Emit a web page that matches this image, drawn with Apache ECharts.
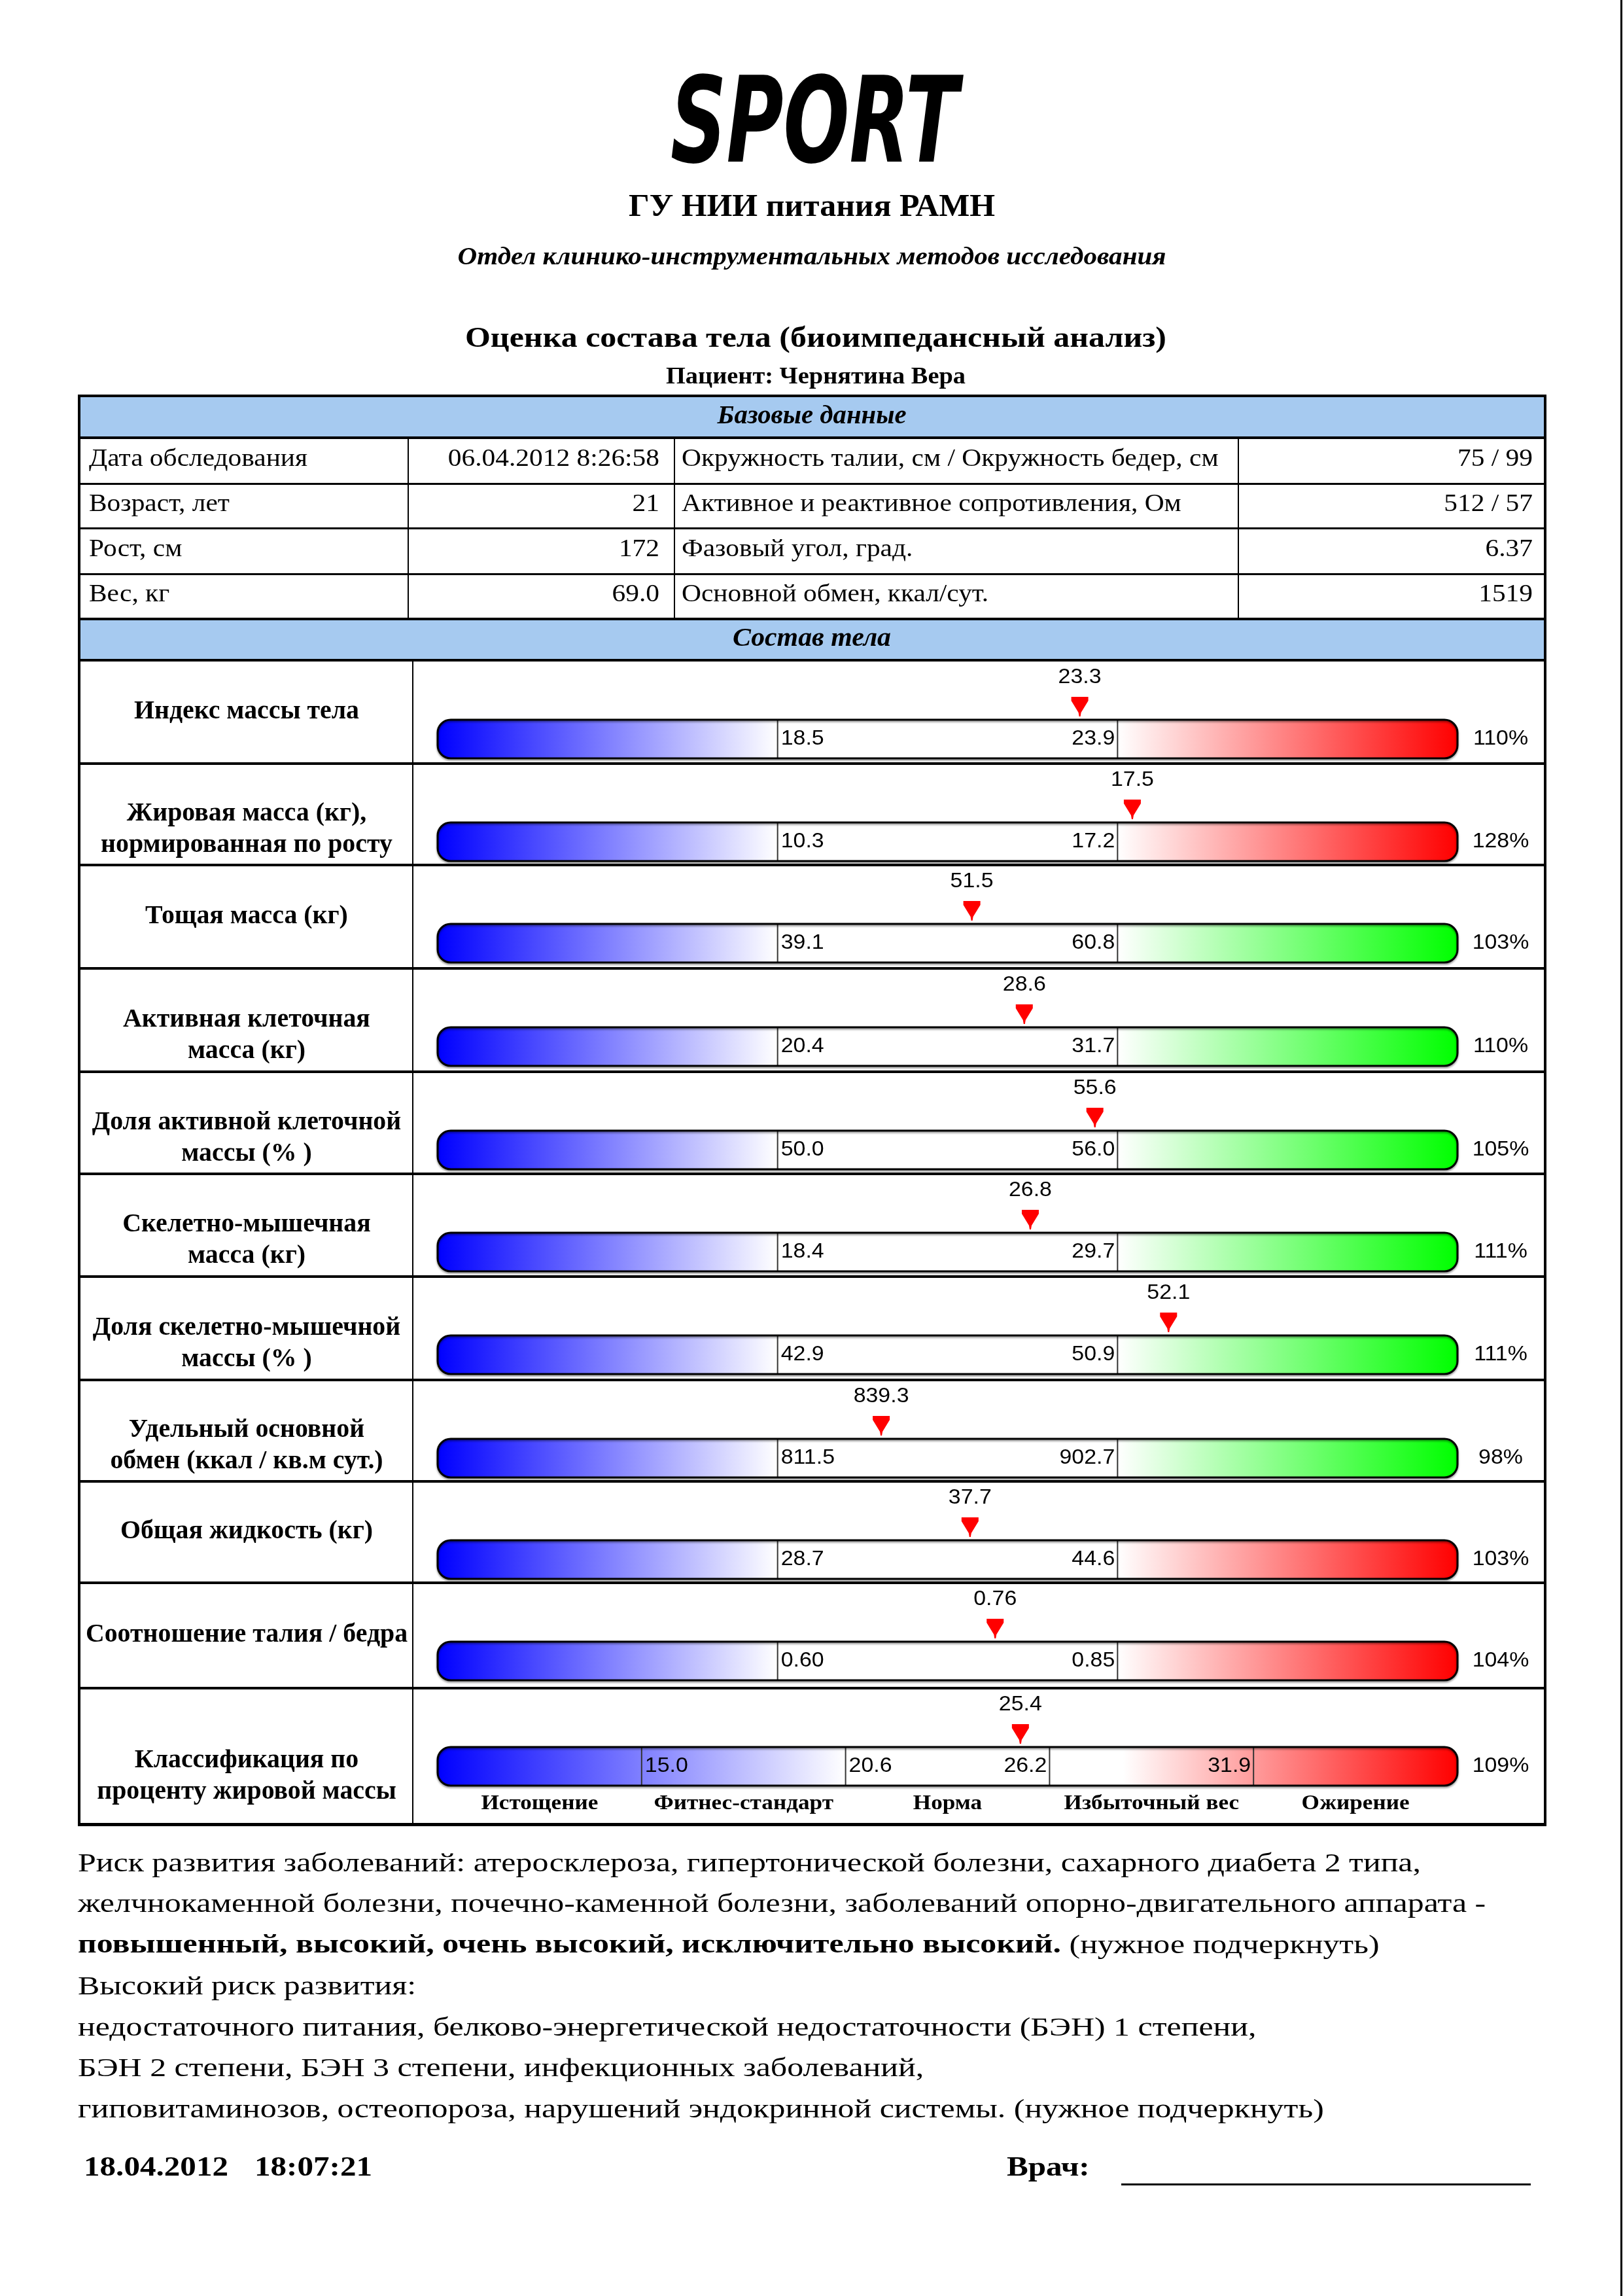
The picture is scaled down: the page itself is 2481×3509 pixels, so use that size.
<!DOCTYPE html>
<html><head><meta charset="utf-8">
<script src="https://cdn.jsdelivr.net/npm/echarts@6/dist/echarts.min.js"></script>
<style>html,body{margin:0;padding:0;background:#fff}#c{width:2481px;height:3509px}</style>
</head><body><div id="c"></div>
<script>
// ---------------- DATA ----------------
const rowLabels = [
  ['Индекс массы тела'],
  ['Жировая масса (кг),', 'нормированная по росту'],
  ['Тощая масса (кг)'],
  ['Активная клеточная', 'масса (кг)'],
  ['Доля активной клеточной', 'массы (% )'],
  ['Скелетно-мышечная', 'масса (кг)'],
  ['Доля скелетно-мышечной', 'массы (% )'],
  ['Удельный основной', 'обмен (ккал / кв.м сут.)'],
  ['Общая жидкость (кг)'],
  ['Соотношение талия / бедра'],
  ['Классификация по', 'проценту жировой массы']
];
const lowValues  = [18.5, 10.3, 39.1, 20.4, 50.0, 18.4, 42.9, 811.5, 28.7, 0.60];
const highValues = [23.9, 17.2, 60.8, 31.7, 56.0, 29.7, 50.9, 902.7, 44.6, 0.85];
const lowText    = ['18.5','10.3','39.1','20.4','50.0','18.4','42.9','811.5','28.7','0.60'];
const highText   = ['23.9','17.2','60.8','31.7','56.0','29.7','50.9','902.7','44.6','0.85'];
const measured   = [23.3, 17.5, 51.5, 28.6, 55.6, 26.8, 52.1, 839.3, 37.7, 0.76];
const measuredText = ['23.3','17.5','51.5','28.6','55.6','26.8','52.1','839.3','37.7','0.76'];
const upperZone  = ['red','red','green','green','green','green','green','green','red','red'];
const percentText = ['110%','128%','103%','110%','105%','111%','111%','98%','103%','104%'];
const fatThresholds = [15.0, 20.6, 26.2, 31.9];
const fatThresholdText = ['15.0','20.6','26.2','31.9'];
const fatValue = 25.4;
const fatValueText = '25.4';
const fatPercent = '109%';
const fatClassNames = ['Истощение','Фитнес-стандарт','Норма','Избыточный вес','Ожирение'];

const baseLeftLabels  = ['Дата обследования','Возраст, лет','Рост, см','Вес, кг'];
const baseLeftValues  = ['06.04.2012 8:26:58','21','172','69.0'];
const baseRightLabels = ['Окружность талии, см / Окружность бедер, см','Активное и реактивное сопротивления, Ом','Фазовый угол, град.','Основной обмен, ккал/сут.'];
const baseRightValues = ['75 / 99','512 / 57','6.37','1519'];

const riskLines = [
  'Риск развития заболеваний: атеросклероза, гипертонической болезни, сахарного диабета 2 типа,',
  'желчнокаменной болезни, почечно-каменной болезни, заболеваний опорно-двигательного аппарата -',
  '{b|повышенный, высокий, очень высокий, исключительно высокий.} (нужное подчеркнуть)',
  'Высокий риск развития:',
  'недостаточного питания, белково-энергетической недостаточности (БЭН) 1 степени,',
  'БЭН 2 степени, БЭН 3 степени, инфекционных заболеваний,',
  'гиповитаминозов, остеопороза, нарушений эндокринной системы. (нужное подчеркнуть)'
];
const reportDate = '18.04.2012';
const reportTime = '18:07:21';

// ---------------- HELPERS ----------------
const SERIF = '"Liberation Serif","Times New Roman",serif';
const SANS = '"Liberation Sans",Arial,sans-serif';
const mctx = document.createElement('canvas').getContext('2d');
function measure(text, font) { mctx.font = font; return mctx.measureText(text).width; }
function fit(text, font, target) { return target / measure(text, font); }

function T(x, y, text, font, align, sx, extra) {
  const st = Object.assign({ text: text, font: font, fill: '#000', align: align, textAlign: align,
    verticalAlign: 'middle', textVerticalAlign: 'middle', x: 0, y: 0 }, extra || {});
  return { type: 'text', x: x, y: y, scaleX: sx, scaleY: 1, style: st, z: 10 };
}
function R(x, y, w, h, fill, z) { return { type: 'rect', shape: { x: x, y: y, width: w, height: h }, style: { fill: fill }, z: z || 5 }; }

function toSeg(v, th) {
  let k = 0;
  while (k < th.length - 2 && v > th[k + 1]) k++;
  return 1 + k + (v - th[k]) / (th[k + 1] - th[k]);
}

// ---------------- LAYOUT ----------------
const W = 2481, H = 3509;
const tL = 121, tR = 2362;
const rowBounds = [1009, 1166, 1321, 1479, 1637, 1793, 1950, 2108, 2263, 2418, 2579, 2788];
const barLeft = 669, barWidth = 1559, barH = 59;

const fTable = '38px ' + SERIF;
const sTable = fit('Дата обследования', fTable, 334);
const fLabel = 'bold 41px ' + SERIF;
const sLabel = fit('Индекс массы тела', fLabel, 344);
const fNum = '31px ' + SANS;
const sNum = fit('18.5', fNum, 66);
const fCat = 'bold 32px ' + SERIF;
const sCat = fit('Истощение', fCat, 179);

const graphics = [];
// page edge
graphics.push(R(2477, 0, 3, H, '#000'));
// logo & titles
const fLogo = 'bold italic 182px "Liberation Sans Narrow","DejaVu Sans Condensed",sans-serif';
graphics.push(T(1245, 200, 'SPORT', fLogo, 'center', fit('SPORT', fLogo, 440)));
const f1 = 'bold 48px ' + SERIF;
graphics.push(T(1241, 318, 'ГУ НИИ питания РАМН', f1, 'center', fit('ГУ НИИ питания РАМН', f1, 560)));
const f2 = 'italic bold 38px ' + SERIF;
const t2 = 'Отдел клинико-инструментальных методов исследования';
graphics.push(T(1241, 394, t2, f2, 'center', fit(t2, f2, 1083)));
const f3 = 'bold 44px ' + SERIF;
const t3 = 'Оценка состава тела (биоимпедансный анализ)';
graphics.push(T(1247, 519, t3, f3, 'center', fit(t3, f3, 1072)));
const f4 = 'bold 35px ' + SERIF;
const t4 = 'Пациент: Чернятина Вера';
graphics.push(T(1247, 577, t4, f4, 'center', fit(t4, f4, 458)));

// table header bands
const bandColor = '#A6CAF0';
graphics.push(R(tL, 605, tR - tL, 64, bandColor, 1));
graphics.push(R(tL, 946, tR - tL, 63, bandColor, 1));
const fBand = 'italic bold 39px ' + SERIF;
graphics.push(T(1241, 637, 'Базовые данные', fBand, 'center', fit('Базовые данные', fBand, 289)));
graphics.push(T(1241, 977, 'Состав тела', fBand, 'center', fit('Состав тела', fBand, 242)));

// table lines
graphics.push(R(tL - 2, 603, tR - tL + 4, 4, '#000'));
graphics.push(R(tL - 2, 2786, tR - tL + 4, 5, '#000'));
graphics.push(R(tL - 2, 603, 4, 2188, '#000'));
graphics.push(R(tR - 2, 603, 4, 2188, '#000'));
[667, 944, 1007].forEach(y => graphics.push(R(tL, y, tR - tL, 4, '#000')));
[738, 806, 876].forEach(y => graphics.push(R(tL, y, tR - tL, 3, '#000')));
[623, 1030, 1892].forEach(x => graphics.push(R(x, 669, 2, 277, '#000')));
graphics.push(R(630, 1009, 2, 1779, '#000'));
rowBounds.slice(1, -1).forEach(y => graphics.push(R(tL, y - 1, tR - tL, 4, '#000')));

// base data text
const baseMid = [702, 771, 840, 909];
for (let i = 0; i < 4; i++) {
  graphics.push(T(136, baseMid[i], baseLeftLabels[i], fTable, 'left', sTable));
  graphics.push(T(1008, baseMid[i], baseLeftValues[i], fTable, 'right', sTable));
  graphics.push(T(1042, baseMid[i], baseRightLabels[i], fTable, 'left', sTable));
  graphics.push(T(2343, baseMid[i], baseRightValues[i], fTable, 'right', sTable));
}

// row labels
for (let i = 0; i < rowLabels.length; i++) {
  const mid = (rowBounds[i] + rowBounds[i + 1]) / 2 + (i === 10 ? 7 : 0);
  const lines = rowLabels[i];
  lines.forEach((ln, j) => graphics.push(T(377, mid + j * 48, ln, fLabel, 'center', sLabel)));
}

// bottom text
const fBody = '40px ' + SERIF;
const sBody = fit(riskLines[0], fBody, 2053);
const riskY = [2849, 2911, 2974, 3037, 3100, 3162, 3225];
riskLines.forEach((ln, i) => {
  graphics.push(T(119, riskY[i], ln, fBody, 'left', sBody, { rich: { b: { font: 'bold 40px ' + SERIF } } }));
});
const fFoot = 'bold 42px ' + SERIF;
const sFoot = fit(reportDate, fFoot, 221);
graphics.push(T(128, 3314, reportDate, fFoot, 'left', sFoot));
graphics.push(T(389, 3314, reportTime, fFoot, 'left', sFoot));
graphics.push(T(1539, 3314, 'Врач:', fFoot, 'left', sFoot));
graphics.push(R(1714, 3337, 626, 3, '#000'));

// ---------------- BARS (ECharts grids + custom series) ----------------
const grids = [], xAxes = [], yAxes = [], series = [];
for (let k = 0; k < 11; k++) {
  const isClass = k === 10;
  const th = isClass ? fatThresholds : [lowValues[k], highValues[k]];
  const nSeg = th.length + 1;
  const v = isClass ? fatValue : measured[k];
  grids.push({ left: barLeft, top: rowBounds[k] + 91, width: barWidth, height: barH, show: false });
  xAxes.push({ gridIndex: k, type: 'value', min: 0, max: nSeg, show: false });
  yAxes.push({ gridIndex: k, type: 'value', min: 0, max: 1, show: false });
  series.push({
    type: 'custom', xAxisIndex: k, yAxisIndex: k, clip: false,
    data: [[toSeg(v, th), 0.5]],
    renderItem: (function (k, isClass, th, nSeg) {
      return function (params, api) {
        const xs = [];
        for (let s = 0; s <= nSeg; s++) xs.push(api.coord([s, 0])[0]);
        const yB = api.coord([0, 0])[1], yT = api.coord([0, 1])[1];
        const h = yB - yT, yM = (yB + yT) / 2, rad = 20;
        const ch = [];
        const blueEnd = isClass ? 2 : 1;
        const hotStart = isClass ? 3 : 2;
        const hot = (isClass || upperZone[k] === 'red') ? '#ff0000' : '#00ff00';
        ch.push({ type: 'rect', shape: { x: xs[0], y: yT, width: xs[blueEnd] - xs[0], height: h, r: [rad, 0, 0, rad] },
          style: { fill: new echarts.graphic.LinearGradient(0, 0, 1, 0, [{ offset: 0, color: '#0000ff' }, { offset: 1, color: '#ffffff' }]) } });
        const hotStops = isClass
          ? [{ offset: 0, color: '#ffffff' }, { offset: 0.18, color: '#ffffff' }, { offset: 1, color: hot }]
          : [{ offset: 0, color: '#ffffff' }, { offset: 1, color: hot }];
        ch.push({ type: 'rect', shape: { x: xs[hotStart], y: yT, width: xs[nSeg] - xs[hotStart], height: h, r: [0, rad, rad, 0] },
          style: { fill: new echarts.graphic.LinearGradient(0, 0, 1, 0, hotStops) } });
        for (let s = 1; s < nSeg; s++) {
          ch.push({ type: 'line', shape: { x1: xs[s], y1: yT, x2: xs[s], y2: yB }, style: { stroke: '#333', lineWidth: 2 } });
        }
        ch.push({ type: 'rect', shape: { x: xs[0], y: yT, width: xs[nSeg] - xs[0], height: h, r: rad },
          style: { fill: 'none', stroke: '#000', lineWidth: 3, shadowBlur: 3, shadowOffsetY: 2, shadowColor: 'rgba(0,0,0,0.45)' } });
        // threshold labels
        if (!isClass) {
          ch.push(T(xs[1] + 5, yM, lowText[k], fNum, 'left', sNum));
          ch.push(T(xs[2] - 4, yM, highText[k], fNum, 'right', sNum));
        } else {
          ch.push(T(xs[1] + 5, yM, fatThresholdText[0], fNum, 'left', sNum));
          ch.push(T(xs[2] + 5, yM, fatThresholdText[1], fNum, 'left', sNum));
          ch.push(T(xs[3] - 4, yM, fatThresholdText[2], fNum, 'right', sNum));
          ch.push(T(xs[4] - 4, yM, fatThresholdText[3], fNum, 'right', sNum));
          for (let s = 0; s < nSeg; s++) {
            const cx = api.coord([s + 0.5, 0])[0];
            ch.push(T(cx, yB + 28, fatClassNames[s], fCat, 'center', sCat));
          }
        }
        // marker
        const mx = api.coord([api.value(0), 1])[0];
        ch.push({ type: 'polygon', shape: { points: [[mx - 13, yT - 35], [mx + 13, yT - 35], [mx + 13, yT - 29], [mx + 2, yT - 11], [mx + 1, yT - 5], [mx - 1, yT - 5], [mx - 2, yT - 11], [mx - 13, yT - 29]] },
          style: { fill: '#ff0000' } });
        ch.push(T(mx, yT - 65, isClass ? fatValueText : measuredText[k], fNum, 'center', sNum));
        // percent
        ch.push(T(xs[nSeg] + 66, yM, isClass ? fatPercent : percentText[k], fNum, 'center', sNum));
        return { type: 'group', children: ch };
      };
    })(k, isClass, th, nSeg)
  });
}

const chart = echarts.init(document.getElementById('c'), null, { renderer: 'canvas', width: W, height: H });
chart.setOption({
  backgroundColor: '#ffffff',
  animation: false,
  grid: grids, xAxis: xAxes, yAxis: yAxes,
  series: series,
  graphic: { elements: graphics }
});
</script>
</body></html>
